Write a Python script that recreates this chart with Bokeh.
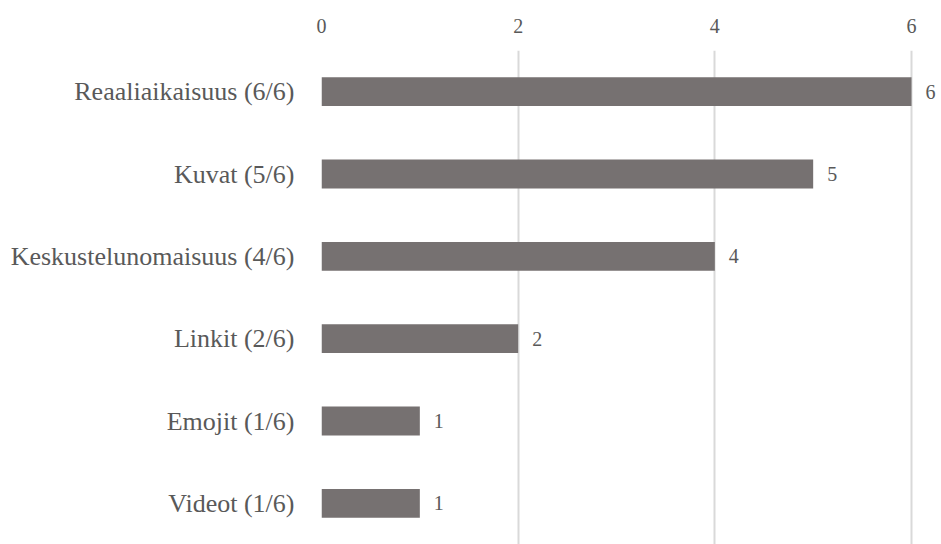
from bokeh.plotting import figure
from bokeh.models import ColumnDataSource, FactorRange, Range1d, FixedTicker
from bokeh.embed import file_html
from bokeh.resources import INLINE
from bokeh.core.properties import value

categories = ["Reaaliaikaisuus (6/6)", "Kuvat (5/6)", "Keskustelunomaisuus (4/6)",
              "Linkit (2/6)", "Emojit (1/6)", "Videot (1/6)"]
counts = [6, 5, 4, 2, 1, 1]
ticks = [0, 2, 4, 6]

FONT = "Liberation Serif"
TEXT = "#595959"
BAR = "#767171"
GRID = "#d9d9d9"

src = ColumnDataSource(dict(cat=categories, val=counts, lab=[str(v) for v in counts]))

p = figure(width=941, height=544, output_backend="svg", toolbar_location=None,
           y_range=FactorRange(factors=list(reversed(categories))),
           x_range=Range1d(0, 6.305), x_axis_location="above",
           min_border_left=321, min_border_right=0, min_border_top=50, min_border_bottom=0)
p.outline_line_color = None
p.background_fill_color = "white"
p.border_fill_color = "white"

p.hbar(y="cat", right="val", left=0, height=0.35, source=src, fill_color=BAR, line_color=None)

p.text(x="val", y="cat", text="lab", source=src, x_offset=14, text_baseline="middle",
       text_align="left", text_font=value(FONT), text_font_size="20px", text_color=TEXT)

xa = p.xaxis[0]
xa.ticker = FixedTicker(ticks=ticks)
xa.axis_line_color = None
xa.major_tick_line_color = None
xa.minor_tick_line_color = None
xa.major_label_text_font = FONT
xa.major_label_text_font_size = "20px"
xa.major_label_text_color = TEXT
xa.major_label_standoff = 12

ya = p.yaxis[0]
ya.axis_line_color = None
ya.major_tick_line_color = None
ya.minor_tick_line_color = None
ya.major_label_text_font = FONT
ya.major_label_text_font_size = "26px"
ya.major_label_text_color = TEXT
ya.major_label_standoff = 21

p.xgrid.grid_line_color = GRID
p.xgrid.grid_line_width = 2
p.xgrid.ticker = FixedTicker(ticks=ticks)
p.ygrid.grid_line_color = None

open("out.html", "w").write(file_html(p, INLINE))
